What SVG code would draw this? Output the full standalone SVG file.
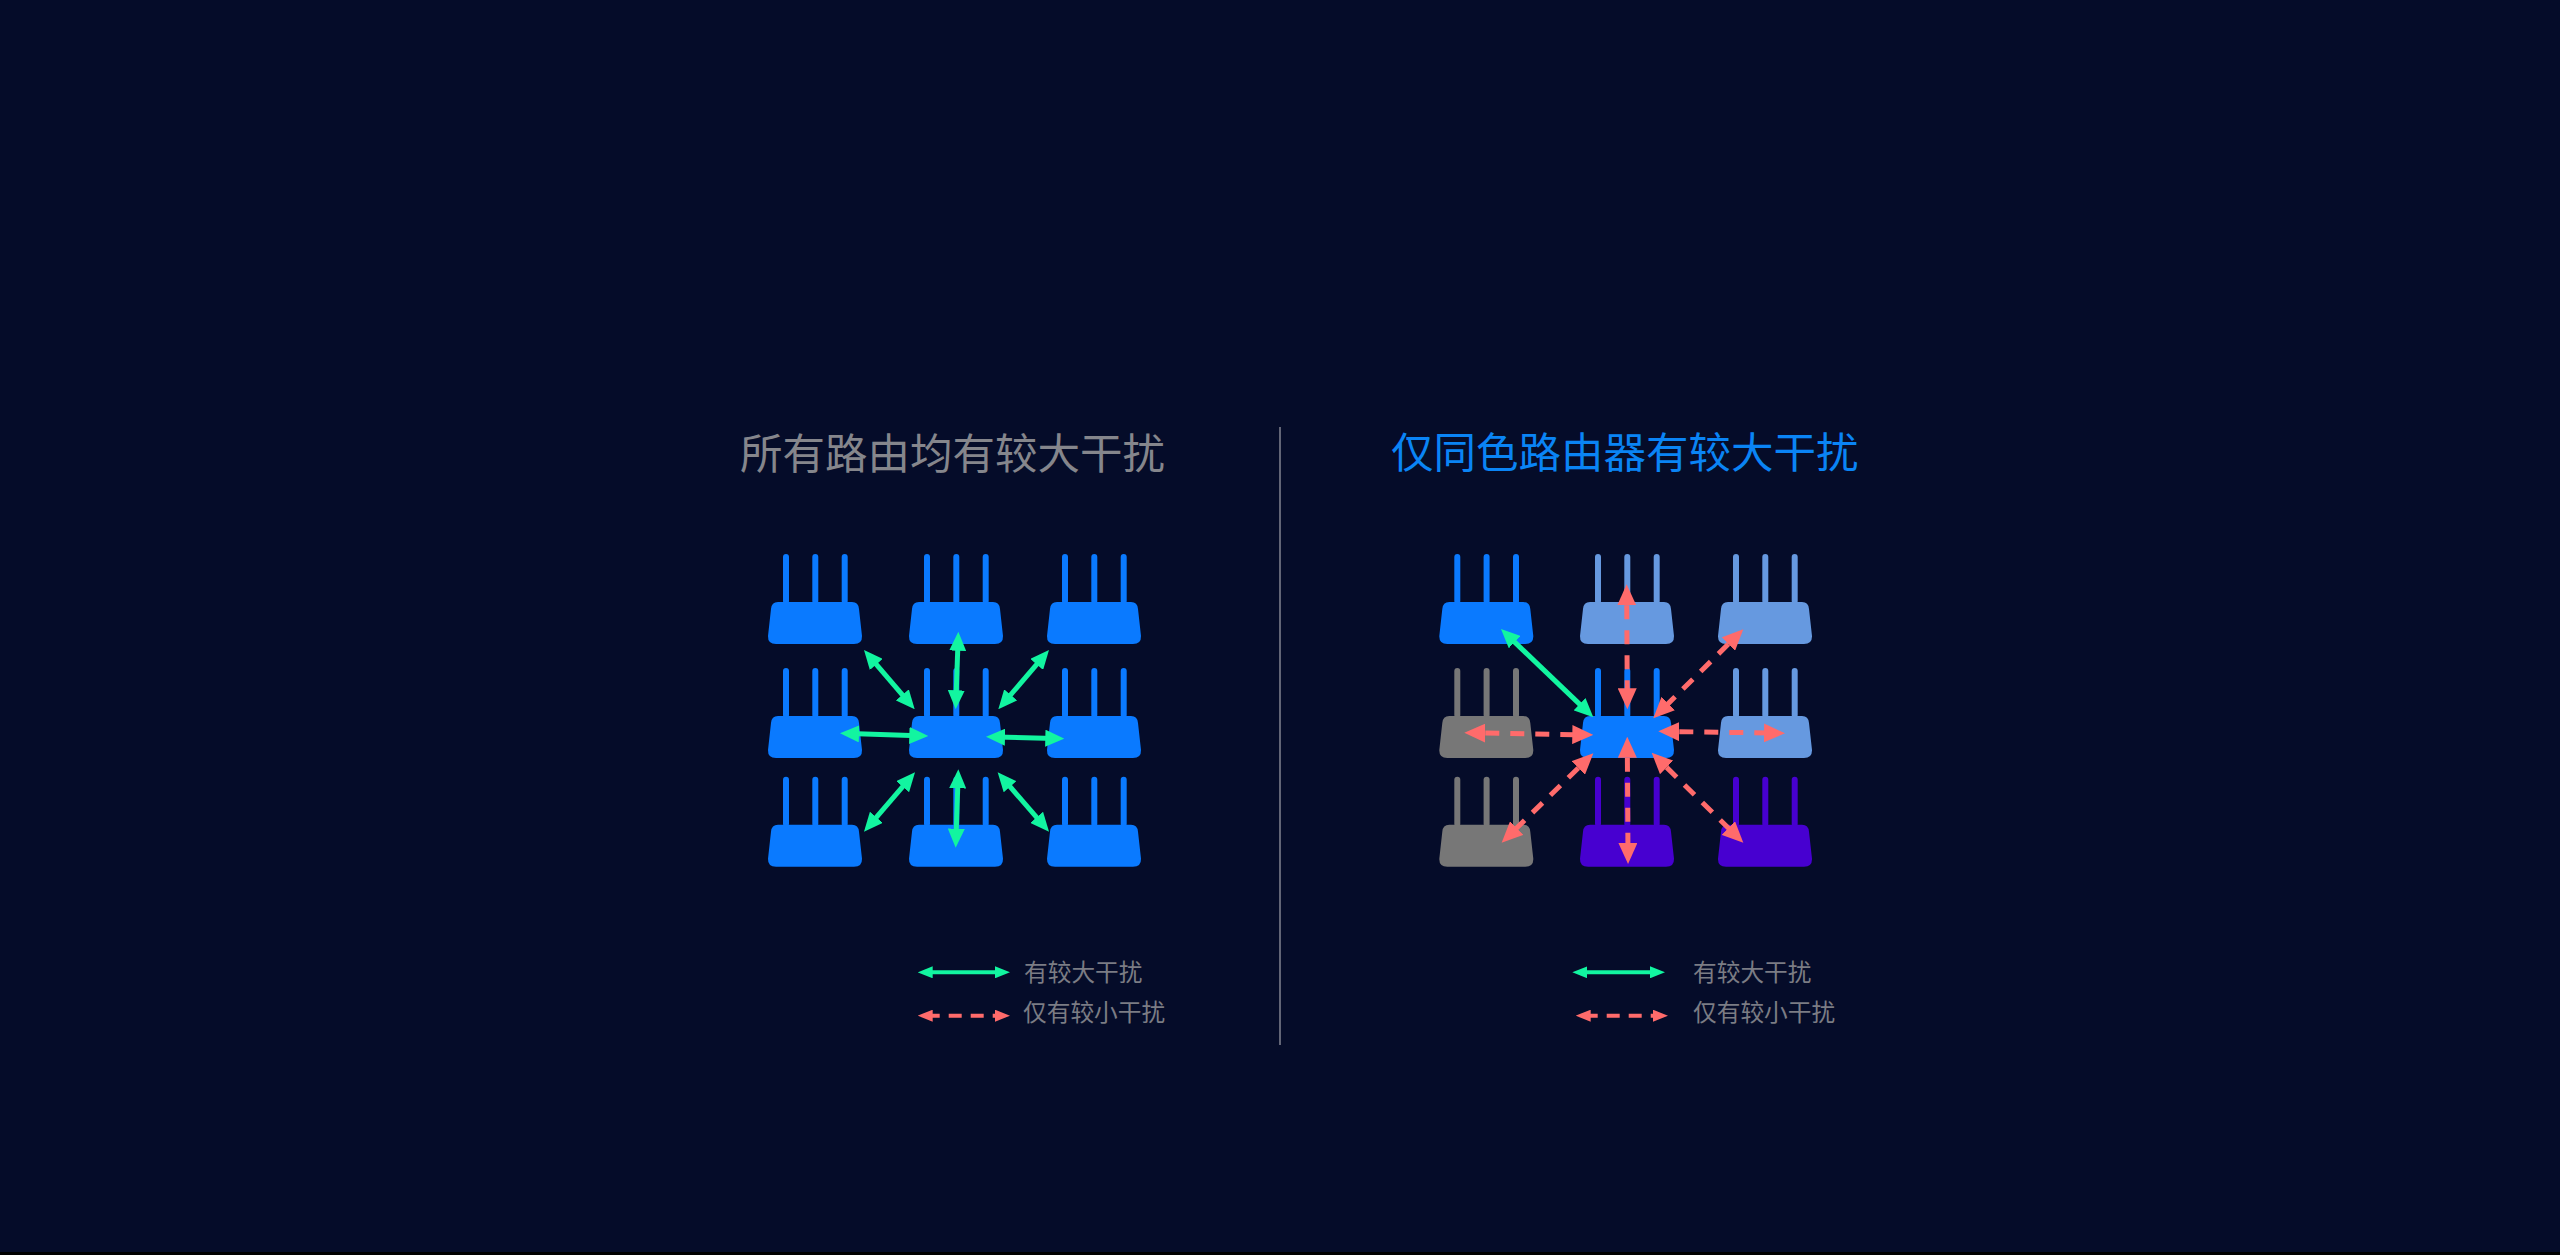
<svg xmlns="http://www.w3.org/2000/svg" width="2560" height="1255" viewBox="0 0 2560 1255">
<style>
text{font-family:"Noto Sans CJK SC","Noto Sans",sans-serif}
.t{font-size:42.5px}
.l{font-size:23.7px;fill:#7b7c84}
.g{stroke:#12f5a0;stroke-width:5;fill:none;marker-start:url(#hg);marker-end:url(#hg)}
.r{stroke:#ff6b6b;stroke-width:5;fill:none;stroke-dasharray:14 11;stroke-dashoffset:-11;marker-start:url(#hr);marker-end:url(#hr)}
.gl{stroke:#12f5a0;stroke-width:4;fill:none;marker-start:url(#hgl);marker-end:url(#hgl)}
.rl{stroke:#ff6b6b;stroke-width:4;fill:none;stroke-dasharray:13 9;marker-start:url(#hrl);marker-end:url(#hrl)}
.b{fill:#0a7aff}.w{fill:#6699e0}.y{fill:#777777}.p{fill:#4700d0}
</style>
<defs>
<marker id="hg" markerUnits="userSpaceOnUse" markerWidth="19" markerHeight="17" refX="9" refY="8.5" orient="auto-start-reverse"><polygon points="0,0 19,8.5 0,17" fill="#12f5a0"/></marker>
<marker id="hr" markerUnits="userSpaceOnUse" markerWidth="21" markerHeight="19" refX="11" refY="9.5" orient="auto-start-reverse"><polygon points="0,0 21,9.5 0,19" fill="#ff6b6b"/></marker>
<marker id="hgl" markerUnits="userSpaceOnUse" markerWidth="15" markerHeight="12" refX="6" refY="6" orient="auto-start-reverse"><polygon points="0,0 15,6 0,12" fill="#12f5a0"/></marker>
<marker id="hrl" markerUnits="userSpaceOnUse" markerWidth="15" markerHeight="12" refX="6" refY="6" orient="auto-start-reverse"><polygon points="0,0 15,6 0,12" fill="#ff6b6b"/></marker>
<g id="router">
<rect x="15" y="0" width="6" height="50" rx="3"/><rect x="44.3" y="0" width="6" height="50" rx="3"/><rect x="73.7" y="0" width="6" height="50" rx="3"/>
<path d="M10,48H84Q90.5,48 91,55L94,82Q94.3,90 86,90H8Q-.3,90 0,82L3,55Q3.5,48 10,48Z"/>
</g>
</defs>
<rect width="2560" height="1255" fill="#050c29"/>
<rect y="1252" width="2560" height="3" fill="#000"/>
<rect id="divider" x="1279.3" y="427" width="1.4" height="618" fill="#8a8c98"/>
<text id="title-left" class="t" x="740" y="469" fill="#85868c">所有路由均有较大干扰</text>
<text id="title-right" class="t" x="1391" y="468" fill="#0a84f5">仅同色路由器有较大干扰</text>
<g id="routers-left">
<g id="l1"><use href="#router" x="768" y="554" class="b"/></g>
<g id="l2"><use href="#router" x="909" y="554" class="b"/></g>
<g id="l3"><use href="#router" x="1047" y="554" class="b"/></g>
<g id="l4"><use href="#router" x="768" y="668" class="b"/></g>
<g id="l5"><use href="#router" x="909" y="668" class="b"/></g>
<g id="l6"><use href="#router" x="1047" y="668" class="b"/></g>
<g id="l7"><use href="#router" x="768" y="776.7" class="b"/></g>
<g id="l8"><use href="#router" x="909" y="776.7" class="b"/></g>
<g id="l9"><use href="#router" x="1047" y="776.7" class="b"/></g>
</g>
<g id="routers-right">
<g id="r1"><use href="#router" x="1439.3" y="554" class="b"/></g>
<g id="r2"><use href="#router" x="1580" y="554" class="w"/></g>
<g id="r3"><use href="#router" x="1718" y="554" class="w"/></g>
<g id="r4"><use href="#router" x="1439.3" y="668" class="y"/></g>
<g id="r5"><use href="#router" x="1580" y="668" class="b"/></g>
<g id="r6"><use href="#router" x="1718" y="668" class="w"/></g>
<g id="r7"><use href="#router" x="1439.3" y="776.7" class="y"/></g>
<g id="r8"><use href="#router" x="1580" y="776.7" class="p"/></g>
<g id="r9"><use href="#router" x="1718" y="776.7" class="p"/></g>
</g>
<g id="connectors">
<line class="g" x1="870.5" y1="657.6" x2="908.2" y2="701.7"/>
<line class="g" x1="958" y1="641.7" x2="956" y2="699.3"/>
<line class="g" x1="1042.5" y1="657.6" x2="1004.8" y2="701.7"/>
<line class="g" x1="850" y1="733.6" x2="918.3" y2="735.7"/>
<line class="g" x1="996" y1="737" x2="1054.3" y2="738.4"/>
<line class="g" x1="908.5" y1="779.9" x2="870.5" y2="824.1"/>
<line class="g" x1="958" y1="779.3" x2="956" y2="837.7"/>
<line class="g" x1="1004.2" y1="779.9" x2="1042.5" y2="824.1"/>
<line class="g" x1="1508.2" y1="635.9" x2="1586.1" y2="710.4"/>
<line class="r" x1="1626.7" y1="594.3" x2="1627.3" y2="699.3"/>
<line class="r" x1="1736.2" y1="636.3" x2="1660.4" y2="711.3"/>
<line class="r" x1="1474.3" y1="732.9" x2="1583.3" y2="734.8"/>
<line class="r" x1="1668.3" y1="731.5" x2="1775" y2="733.1"/>
<line class="r" x1="1586.2" y1="760.3" x2="1508.8" y2="835.7"/>
<line class="r" x1="1627.3" y1="746.7" x2="1628" y2="854"/>
<line class="r" x1="1658.8" y1="759.7" x2="1736.2" y2="835.7"/>
<line class="gl" x1="926.7" y1="972.3" x2="1001" y2="972.3"/>
<line class="rl" x1="926.7" y1="1015.7" x2="1001" y2="1015.7"/>
<line class="gl" x1="1581.3" y1="972.3" x2="1656" y2="972.3"/>
<line class="rl" x1="1584.7" y1="1015.7" x2="1659" y2="1015.7"/>
</g>
<g id="legend-left">
<text class="l" x="1024" y="981">有较大干扰</text>
<text class="l" x="1023" y="1021">仅有较小干扰</text>
</g>
<g id="legend-right">
<text class="l" x="1693" y="981">有较大干扰</text>
<text class="l" x="1693" y="1021">仅有较小干扰</text>
</g>
</svg>
